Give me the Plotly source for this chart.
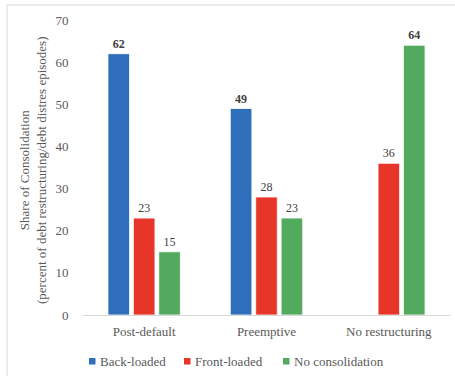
import plotly.graph_objects as go

categories = ["Post-default", "Preemptive", "No restructuring"]
back_loaded = [62, 49, None]
front_loaded = [23, 28, 36]
no_consolidation = [15, 23, 64]
series_names = ["Back-loaded", "Front-loaded", "No consolidation"]
colors = ["#2F6EBA", "#E8352A", "#52AA5E"]
y_ticks = [0, 10, 20, 30, 40, 50, 60, 70]

series = [back_loaded, front_loaded, no_consolidation]
group_max = [max(v for v in col if v is not None) for col in zip(*series)]

FONT = "Liberation Serif, Times New Roman, DejaVu Serif, serif"
W, H = 455, 376
L, R, T, B = 83, 5, 20, 61
pw, ph = W - L - R, H - T - B

def px_x(x):
    return (x - L) / pw

def px_y(y):
    return (H - B - y) / ph

fig = go.Figure()
for name, vals, col in zip(series_names, series, colors):
    texts = []
    for i, v in enumerate(vals):
        if v is None:
            texts.append("")
        elif v == group_max[i]:
            texts.append(f"<b>{v}</b>")
        else:
            texts.append(f"{v}")
    fig.add_trace(go.Bar(
        name=name, x=categories, y=vals,
        marker=dict(color=col, line=dict(color="white", width=0.8)),
        text=texts, textposition="outside", texttemplate="%{text}",
        textfont=dict(family=FONT, size=12, color="#404040"),
        cliponaxis=False, showlegend=False,
    ))

fig.update_layout(
    width=W, height=H,
    margin=dict(l=L, r=R, t=T, b=B),
    paper_bgcolor="white", plot_bgcolor="white",
    barmode="group", bargap=0.377, bargroupgap=0.15,
    font=dict(family=FONT, size=13, color="#595959"),
    showlegend=False,
    xaxis=dict(showline=True, linecolor="#D9D9D9", linewidth=1,
               ticks="outside", ticklen=4, tickcolor="rgba(0,0,0,0)",
               tickfont=dict(family=FONT, size=13, color="#595959"),
               showgrid=False, zeroline=False),
    yaxis=dict(range=[0, 70], tickvals=y_ticks, showgrid=False, zeroline=False,
               showline=False, ticks="outside", ticklen=11,
               tickcolor="rgba(0,0,0,0)",
               tickfont=dict(family=FONT, size=13, color="#595959")),
)

fig.add_annotation(
    text="Share of Consolidation<br>(percent of debt restructuring/debt distres episodes)",
    xref="paper", yref="paper", x=px_x(33), y=px_y(170),
    xanchor="center", yanchor="middle", textangle=-90, showarrow=False,
    font=dict(family=FONT, size=13, color="#595959"),
)

# legend (Excel-style: small squares + labels)
legend_sq_x = [89, 184, 283]
legend_y = 361
for name, col, sx in zip(series_names, colors, legend_sq_x):
    fig.add_shape(type="rect", xref="paper", yref="paper",
                  x0=px_x(sx), x1=px_x(sx + 6.5),
                  y0=px_y(legend_y + 3.5), y1=px_y(legend_y - 3),
                  fillcolor=col, line=dict(width=0))
    fig.add_annotation(text=name, xref="paper", yref="paper",
                       x=px_x(sx + 8.5), y=px_y(legend_y),
                       xanchor="left", yanchor="middle", showarrow=False,
                       font=dict(family=FONT, size=13, color="#595959"))

fig.add_shape(type="rect", xref="paper", yref="paper",
              x0=px_x(7), x1=px_x(462), y0=px_y(382), y1=px_y(5),
              line=dict(color="#D9D9D9", width=1), layer="below")

fig.write_html("out.html")
